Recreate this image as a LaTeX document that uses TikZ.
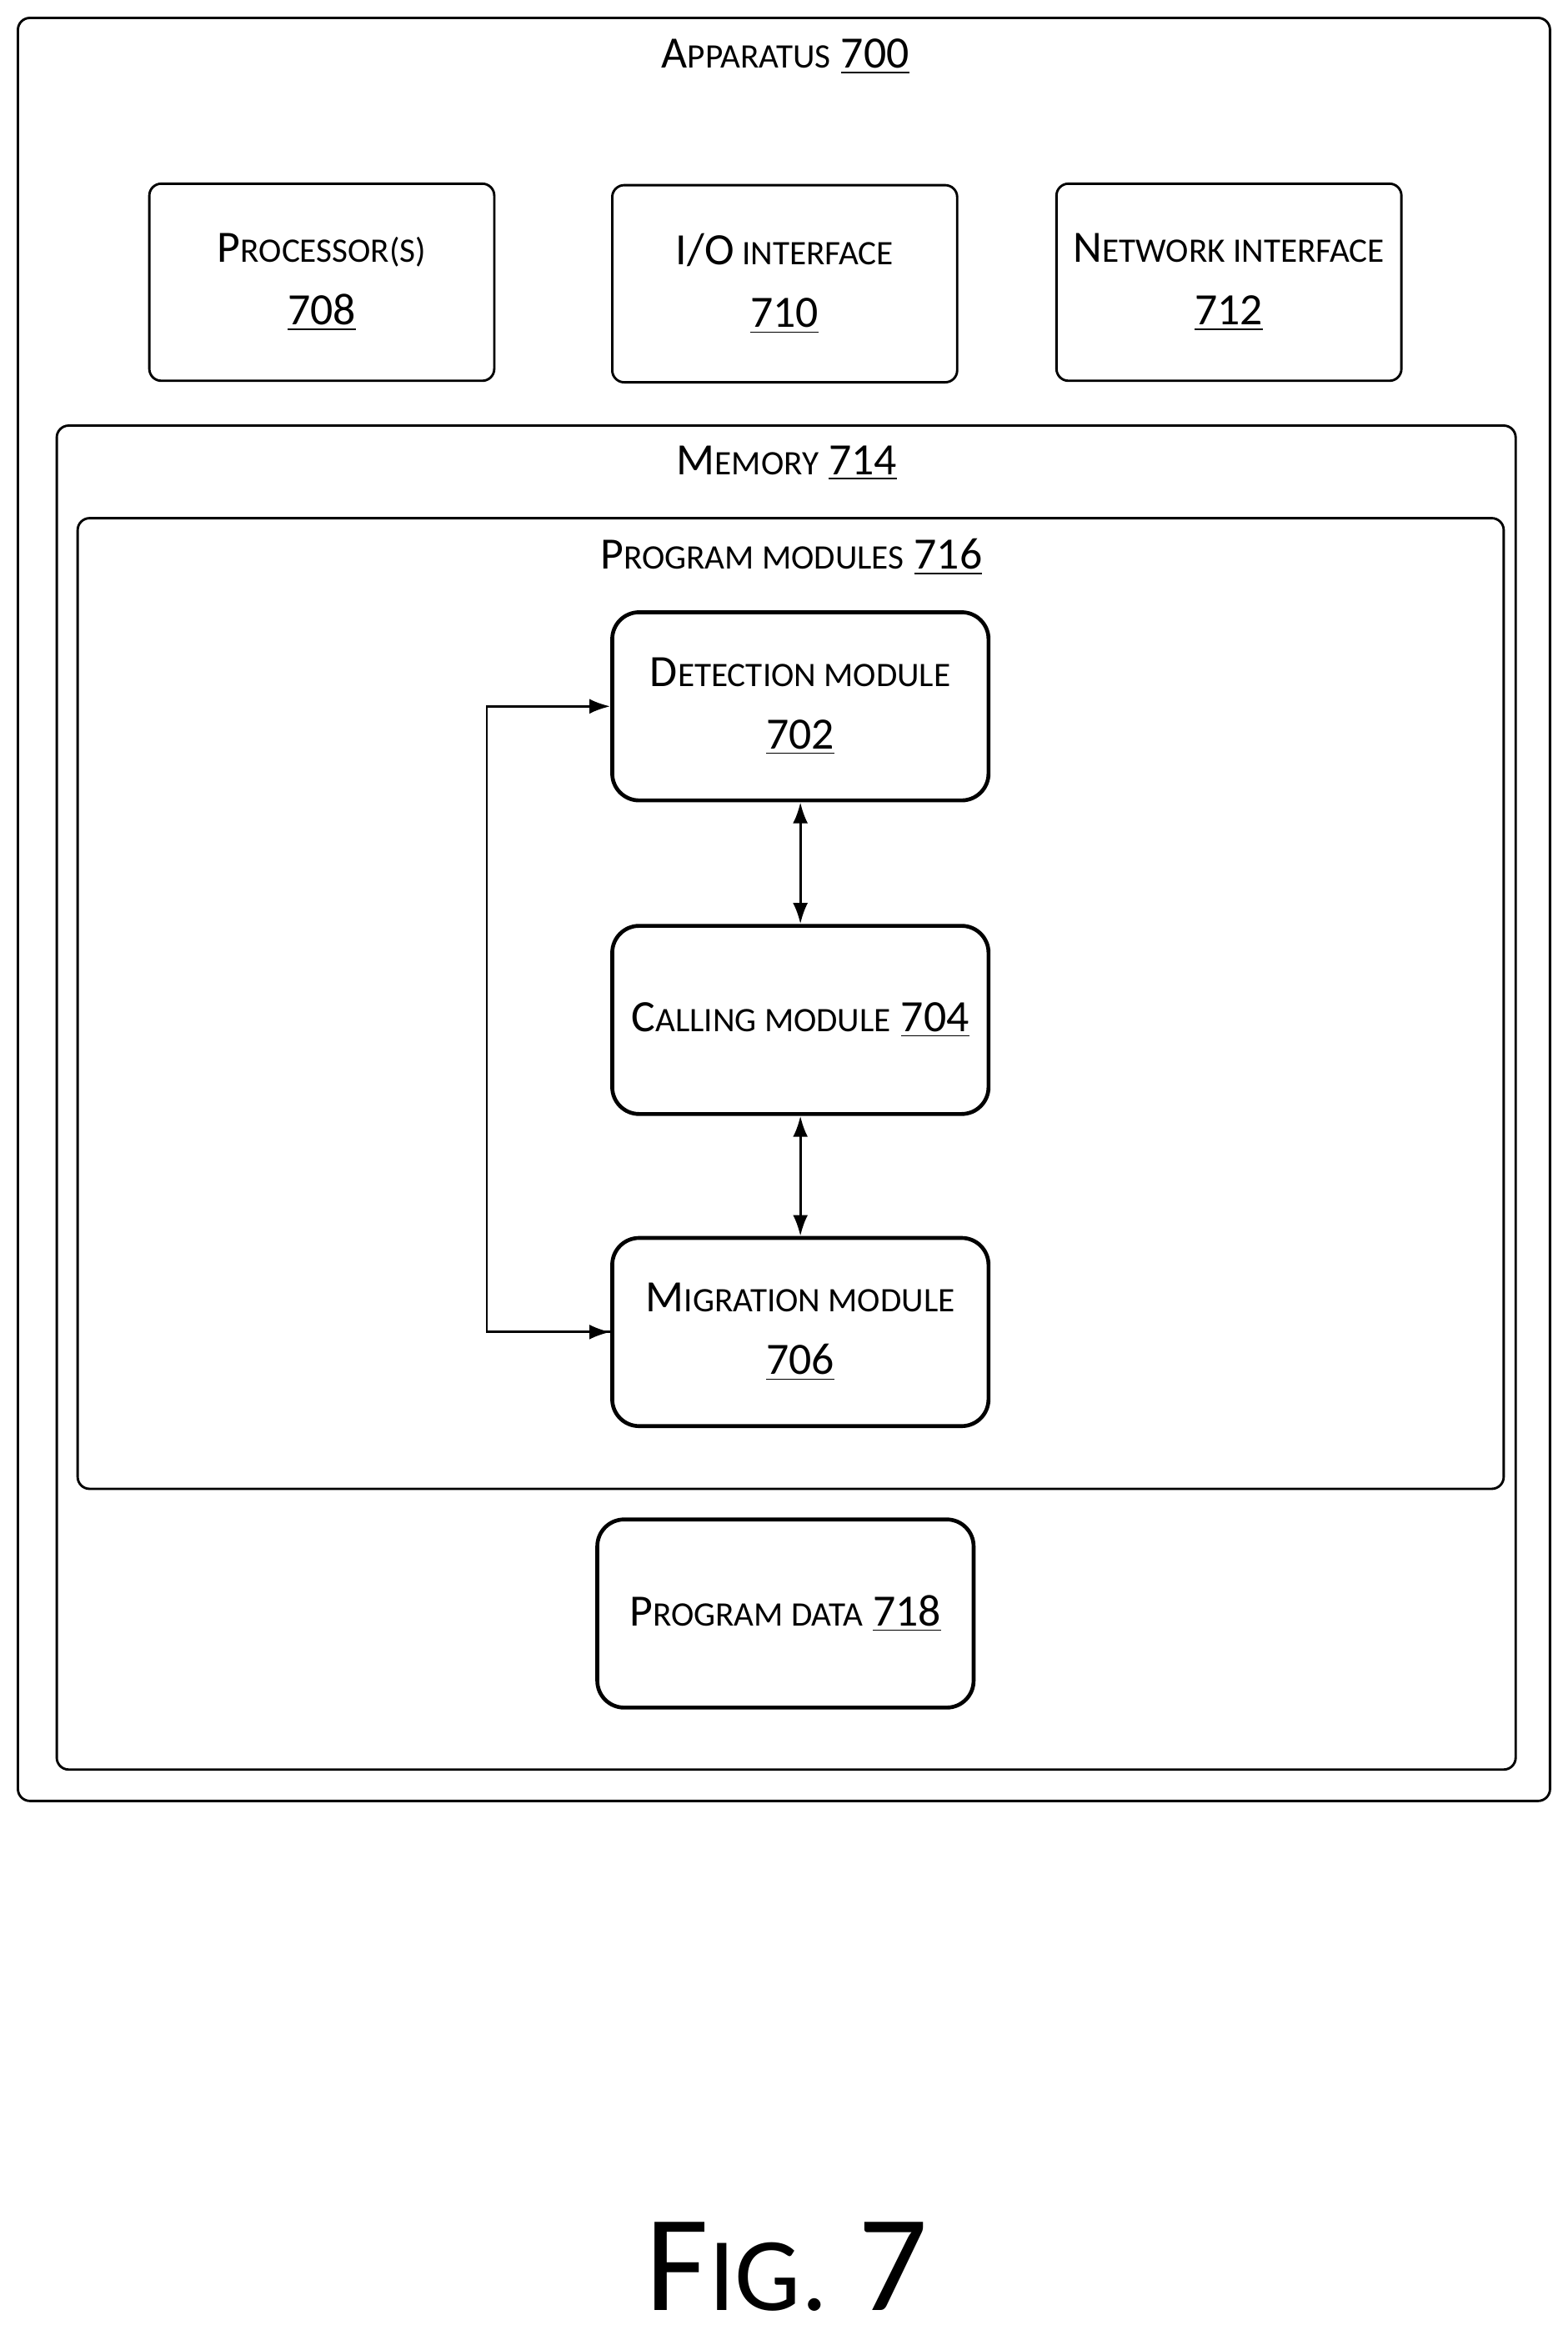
\documentclass[tikz,border=0pt]{standalone}
\usepackage{fontspec}
\setmainfont{Carlito}
\usetikzlibrary{positioning,arrows.meta}
\newcommand\smc[2]{#1{\fontsize{11.5}{14}\selectfont\MakeUppercase{#2}}}
\tikzset{
  box/.style = {shape=rectangle, rounded corners=4pt, draw, line width=0.8pt,
                align=center, inner sep=0pt},
  unit/.style = {box, minimum width=115.5pt, minimum height=66pt},
  module/.style = {box, line width=1.3pt, rounded corners=9pt,
                   minimum width=126pt, minimum height=63pt},
  title/.style = {font=\fontsize{15}{18}\selectfont},
  link/.style = {draw, line width=0.8pt, -{Latex[length=7pt,width=5pt]}}
}
\begin{document}
\begin{tikzpicture}[x=0.5pt,y=-0.5pt,font=\fontsize{15}{19}\selectfont]
\useasboundingbox (0,0) rectangle (1050,1567);
% containers
\node [box, minimum width=513pt, minimum height=597pt] (apparatus) at (525,609) {};
\node [title] at (526,38) {\smc{A}{pparatus} \underline{700}};
\node [box, minimum width=488.5pt, minimum height=450pt] (memory) at (526.5,735) {};
\node [title] at (527,310) {\smc{M}{emory} \underline{714}};
\node [box, minimum width=477.5pt, minimum height=325pt] (modules) at (529.5,672) {};
\node [title] at (530,373) {\smc{P}{rogram modules} \underline{716}};
% hardware
\node [unit] (proc) at (215.5,189) {\smc{P}{rocessor(s)}\\[2pt]\underline{708}};
\node [unit] (io) at (525.5,190) {I/O\smc{}{ interface}\\[2pt]\underline{710}};
\node [unit] (net) at (823,189) {\smc{N}{etwork interface}\\[2pt]\underline{712}};
% modules
\node [module] (detect) at (536,473) {\smc{D}{etection module}\\[2pt]\underline{702}};
\node [module] (call) at (536,683) {\smc{C}{alling module} \underline{704}};
\node [module] (migrate) at (536,892) {\smc{M}{igration module}\\[2pt]\underline{706}};
\node [module] (data) at (526,1080.5) {\smc{P}{rogram data} \underline{718}};
\coordinate (loop) at (326,0);
% connectors
\draw [link, {Latex[length=7pt,width=5pt]}-{Latex[length=7pt,width=5pt]}] (detect) -- (call);
\draw [link, {Latex[length=7pt,width=5pt]}-{Latex[length=7pt,width=5pt]}] (call) -- (migrate);
\draw [link] (migrate.west) -| (loop |- detect.west) -- (detect.west);
\draw [link] (loop |- detect.west) |- (migrate.west);
\node [font=\fontsize{46}{50}\selectfont] (fig) at (527,1518) {F{\fontsize{35}{40}\selectfont IG.} 7};
\end{tikzpicture}
\end{document}
